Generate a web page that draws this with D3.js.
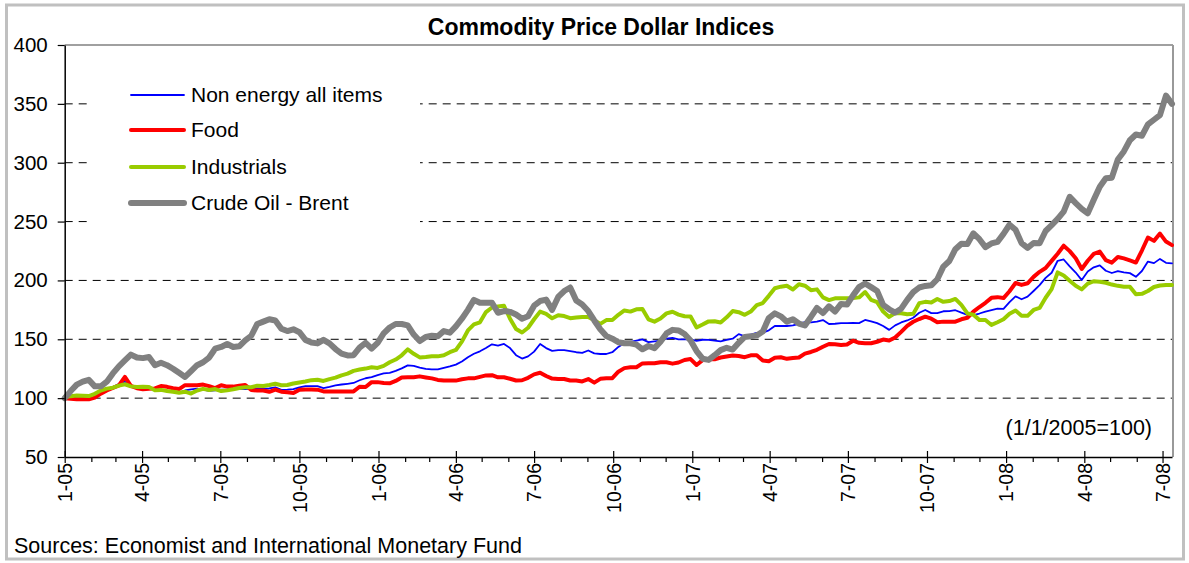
<!DOCTYPE html>
<html><head><meta charset="utf-8">
<script src="https://cdn.jsdelivr.net/npm/d3@7"></script>
<style>
body{margin:0;background:#fff;}
text{font-family:"Liberation Sans",Arial,sans-serif;fill:#000;}
</style>
</head><body>
<svg id="c" width="1189" height="563"></svg>
<script>
// ---------- data (weekly, starting 1 Jan 2005; index 1/1/2005 = 100) ----------
const seriesNames = ["Non energy all items", "Food", "Industrials", "Crude Oil - Brent"];
const seriesColors = ["#0000ff", "#ff0000", "#99cc00", "#808080"];
const seriesWidths = [1.8, 4, 4, 6];

const nonEnergy = [
100,100.5,101,101.5,102,104,105.7,107.7,109.5,112,
114,110.3,108.8,108.3,108.3,108.3,106.6,106.3,105.3,104.8,
106.5,107.5,108,107.3,106.2,106.7,107.3,107.5,108.2,107.8,
107.6,108,108.3,108.1,108.2,109.2,107.1,107.2,107.6,109.2,
110.2,110.2,110.2,108.6,109.6,110.8,111.6,112.2,112.9,115.2,
116.9,117.8,119.6,121,121.5,123.2,125.3,127.8,127.4,126,
124.9,124.5,124.5,125.8,126.9,128.5,131.1,134.8,137.7,139.8,
142.6,145.7,144.7,146,142.5,136.5,133.6,135.5,139.5,146,
142.5,140.2,140.8,140.8,140,139,138.5,140.5,138,137.5,
137.5,139,143.5,146.9,147.8,148.9,149.9,147.6,148.2,148.9,
150.5,151.2,150,150,150,148.7,149.6,149.5,148.9,148.3,
149.5,150.5,154.4,152.6,154,155.4,155.7,157.6,161.3,161.3,
161.3,161.9,163,164.6,164.3,165,166.3,163,163.2,163.7,
163.8,163.9,163.7,166.4,165.3,163.7,161.3,158,161.8,164.3,
166,168.3,172.5,174.9,172.2,172.3,173.8,174,174.7,172.6,
170.7,170.6,171.9,173.5,174.8,176.1,175.9,181.5,186.5,184,
186.2,191,196,202.2,206.5,216.7,217.8,212,206.7,200.3,
207.6,211.1,212.8,208.2,206.3,207.9,206.8,206.2,203.1,208,
216,214.7,218.3,215,214.5];

const food = [
100,99.5,99,99,99,100.5,103.8,106.5,108.6,110.8,
118,110.5,108.4,107.6,107.9,108.3,110.3,109.6,108.4,107.7,
111,111,111,111.5,110.2,108.5,111,109.8,109.8,110.5,
111.2,107,106.5,106.5,105.4,107.3,105.5,105,104.3,107.2,
107.4,107.4,107.2,105.7,105.7,105.7,105.7,105.7,105.7,109.7,
109.5,113.6,113.6,112.8,112.6,114.6,117.5,117.7,117.8,118.5,
117.6,116.8,115.5,114.9,114.9,114.9,116,116.8,116.8,118.1,
119.3,119.5,117.7,117.7,116.5,115,115.2,117.3,120.2,121.6,
118.8,116.6,116.3,116.3,115,114.9,114.2,116.2,113.2,116.4,
116.8,117,122.5,125.5,126.2,126.3,129.5,129.6,129.6,130.5,
130.5,129.3,130.3,132.4,133.2,128.2,132.3,133,133,134.5,
135.4,136.2,135.8,134.8,136.4,136.5,132,131.3,134.3,134.7,
133.4,134.1,134.5,137.8,139.2,141.1,143.7,146,145.7,145.2,
145.6,148.8,147,146.6,146.6,147.9,149.8,148.9,151.5,156.3,
161.4,164.9,167.2,169.2,167.5,164.5,165,165,165,167,
168.3,173.5,177.4,181,185.2,185.8,185,190.8,197.8,196.2,
197.6,203,207.3,210.5,216.6,222.7,229.5,224.9,218.8,209.7,
216.7,222.5,224.5,217.2,215.1,219.9,218.7,217,215.2,225.4,
236.5,233.6,239.8,233,230];

const industrials = [
100.8,101.7,102.2,102,101.8,103.7,106.5,108.1,108.9,110.6,
111.8,110,109.5,109.7,109.5,106.6,107,106.1,105.4,104.6,
105.5,103.9,106.5,107.9,106.9,107.7,106,106.6,107.5,108.6,
109.2,109.3,110.6,110.4,111.2,112.2,111,111.2,112.4,113.3,
114.2,115.3,115.6,114.6,116.2,117.4,119.4,120.8,123.2,124.3,
125.1,126.2,125.7,127.4,130.5,132.8,136.4,141.4,137.7,134.6,
134.9,135.5,135.5,136.5,139,140.9,148,157.5,162.6,164.4,
173.1,177,177.9,178.5,167.5,158.8,155.8,159.8,167,173.5,
171.6,167.8,170.4,169.7,167.9,168.5,169,168.9,166.2,163.1,
166.3,166.4,170.8,174.5,173.5,175.5,175.8,167,165,167.6,
172,173.4,171,169.6,169.4,160,162.5,165.2,165.3,164.3,
168.7,174,173,170.8,173.6,179,180.8,186.9,193.4,194.7,
195.5,192.3,196.8,195.5,191.7,192.4,185.6,183.3,184.8,184.8,
184.9,185.1,185.6,190.1,183.5,181.5,173.5,169,172.3,172.1,
171.2,171.6,180.7,181.8,181.2,184.2,181.8,182.5,184.3,179.2,
172,170.9,166.3,166.4,162.2,164.5,167,171.6,174.4,170,
169.9,174.9,176.6,185.3,192.6,206.8,204.2,199.7,195.4,192.4,
197.3,199.3,198.9,198,196.5,195.4,194.7,194.7,188.2,188.6,
191,194.4,195.7,196.1,196.1];

const brent = [
100,106,111.5,114,115.5,110,110,114,121,127,
132,137,134.5,134,135,128,130,128,125,121.5,
118,123,128,130.5,134.5,142,143.5,146,143.5,144,
149,153,163,165,167,166,159,157,158.5,156,
149.5,147.3,146.5,149.5,146.5,141.7,137.8,136.3,136.5,143,
147,142,147,155,160,163,163,161.8,154,148.5,
152,153,152.5,157,155.6,161,167.5,175,183.5,181,
181,181,172.5,174,173.3,171,167.5,169.5,178.5,182.5,
183.7,175,186,191,194,183,179.5,174,166,158.5,
152.7,150.5,147.5,146.6,146.6,145.5,141.5,144.3,142.5,148,
155,158,157.5,154.5,149,140,133.5,132.5,136.5,140.8,
142.8,141.3,147,152,152.5,153.3,156.7,168,172,169.5,
165,167,163.4,161.8,169,176.6,172.3,178,173.5,180,
179.5,187.3,194.3,197.4,194.3,191,179.2,175.5,172.7,176,
183.5,190,194,195.3,195.9,201,211.7,216.5,226.5,231.2,
231,240,235,228.3,231.4,232.8,239.5,247.3,243,231.7,
227.7,231.8,231.6,242,247,252.3,258.5,271,265.7,260.8,
257,268.5,279.6,286.8,287.3,302.7,309.6,319.1,324,322.9,
332.5,336.5,340.5,357,350];

const yTickValues = [50, 100, 150, 200, 250, 300, 350, 400];
const gridValues = [100, 150, 200, 250, 300, 350];
const titleText = "Commodity Price Dollar Indices";
const baseNote = "(1/1/2005=100)";
const sourceText = "Sources: Economist and International Monetary Fund";

(function draw() {
  const startDate = new Date(2005, 0, 1);
  const weekDates = d3.range(brent.length).map(i => d3.timeDay.offset(startDate, 7 * i));
  const monthTicks = d3.timeMonth.range(startDate, new Date(2008, 7, 1));

  const svg = d3.select("#c");
  const pL = 64.7, pR = 1172, pT = 45, pB = 457;
  const x = d3.scaleTime().domain([startDate, weekDates[weekDates.length - 1]]).range([pL, pR]);
  const y = d3.scaleLinear().domain([50, 400]).range([pB, pT]);

  // outer frame
  svg.append("rect").attr("x", 6.5).attr("y", 5).attr("width", 1177).attr("height", 554)
    .attr("fill", "#fff").attr("stroke", "#c0c0c0").attr("stroke-width", 3);

  // title
  svg.append("text").attr("x", 601).attr("y", 35).attr("text-anchor", "middle")
    .attr("font-size", 23).attr("font-weight", "bold").text(titleText);

  // gridlines
  svg.append("g").selectAll("line").data(gridValues).join("line")
    .attr("x1", pL).attr("x2", pR).attr("y1", d => y(d)).attr("y2", d => y(d))
    .attr("stroke", "#000").attr("stroke-width", 1).attr("stroke-dasharray", "8,6");

  // plot frame top & right
  svg.append("line").attr("x1", pL).attr("x2", pR + 1).attr("y1", y(400)).attr("y2", y(400))
    .attr("stroke", "#808080").attr("stroke-width", 1.5);
  svg.append("line").attr("x1", pR + 1).attr("x2", pR + 1).attr("y1", y(400)).attr("y2", y(50))
    .attr("stroke", "#999").attr("stroke-width", 2);

  // legend background hides gridlines
  svg.append("rect").attr("x", 88).attr("y", 72).attr("width", 332).attr("height", 158).attr("fill", "#fff");

  // lines
  const allSeries = [nonEnergy, food, industrials, brent];
  const line = d3.line().x((d, i) => x(weekDates[i])).y(d => y(d));
  allSeries.forEach((s, k) => {
    svg.append("path").datum(s).attr("d", line).attr("fill", "none")
      .attr("stroke", seriesColors[k]).attr("stroke-width", seriesWidths[k])
      .attr("stroke-linejoin", "round").attr("stroke-linecap", "round");
  });

  // y axis
  const gy = svg.append("g").attr("transform", `translate(${pL},0)`)
    .call(d3.axisLeft(y).tickValues(yTickValues).tickSize(7).tickSizeOuter(0).tickPadding(10).tickFormat(d3.format("d")));
  gy.select(".domain").attr("stroke", "#000").attr("stroke-width", 1.5);
  gy.selectAll(".tick line").attr("stroke", "#000").attr("stroke-width", 1.2);
  gy.selectAll(".tick text").attr("font-size", 20.5).attr("font-family", "Liberation Sans, Arial, sans-serif");

  // x axis
  const isMajor = d => d.getMonth() % 3 === 0;
  const gx = svg.append("g").attr("transform", `translate(0,${pB})`)
    .call(d3.axisBottom(x).tickValues(monthTicks).tickSizeOuter(0)
      .tickFormat(d => isMajor(d) ? `${d.getMonth() + 1}-${String(d.getFullYear()).slice(2)}` : ""));
  gx.select(".domain").attr("stroke", "#000").attr("stroke-width", 1.5);
  gx.selectAll(".tick line").attr("stroke", "#000").attr("stroke-width", 1.2)
    .attr("y1", d => isMajor(d) ? -6 : 0).attr("y2", d => isMajor(d) ? 6 : 5);
  gx.selectAll(".tick text").attr("font-size", 19.5).attr("font-family", "Liberation Sans, Arial, sans-serif")
    .attr("transform", "rotate(-90)").attr("text-anchor", "end")
    .attr("x", -6).attr("y", 0).attr("dy", "0.35em");

  // legend
  const legend = svg.append("g");
  const legY = [95, 130, 167, 203];
  seriesNames.forEach((name, k) => {
    legend.append("line").attr("x1", 131).attr("x2", 184).attr("y1", legY[k]).attr("y2", legY[k])
      .attr("stroke", seriesColors[k]).attr("stroke-width", seriesWidths[k]).attr("stroke-linecap", "round");
    legend.append("text").attr("x", 191).attr("y", legY[k]).attr("dy", "0.35em")
      .attr("font-size", 21).text(name);
  });

  // base note
  svg.append("text").attr("x", 1152).attr("y", 435).attr("text-anchor", "end")
    .attr("font-size", 21.5).text(baseNote);

  // source
  svg.append("text").attr("x", 14).attr("y", 553).attr("font-size", 21.5).text(sourceText);
})();
</script>
</body></html>
